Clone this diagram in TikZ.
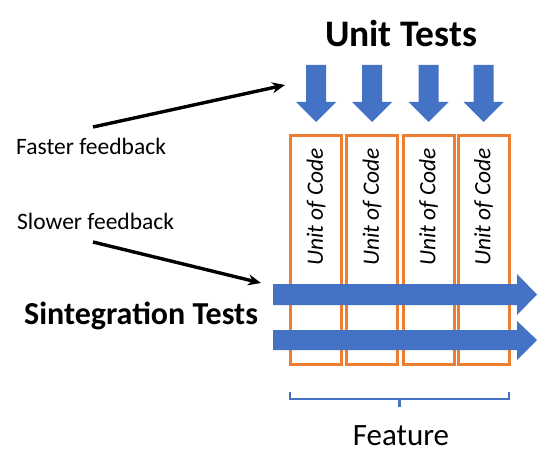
\documentclass[tikz,border=0pt]{standalone}
\usepackage{fontspec}
\setmainfont{Carlito}
\usetikzlibrary{arrows.meta}
\definecolor{ublue}{HTML}{4472C4}
\definecolor{uorange}{HTML}{ED7D31}
\tikzset{
  unitbox/.style={draw=uorange, line width=3pt, fill=white, minimum width=51pt, minimum height=228pt, inner sep=0pt},
  blockarrow/.style={fill=ublue, draw=none},
  fbarrow/.style={line width=3.4pt, -{Stealth[length=13pt,width=11pt]}},
  unittext/.style={rotate=90, font=\fontsize{23.4}{25}\selectfont\itshape},
  lbl/.style={font=\fontsize{23.5}{25}\selectfont, inner sep=0pt, anchor=west},
}
\begin{document}
\begin{tikzpicture}[x=1pt,y=-1pt]
\useasboundingbox (0,0) rectangle (545,457);
% title
\node[font=\fontsize{37.5}{40}\selectfont\bfseries] (ut) at (401,33) {Unit Tests};
% down arrows
\foreach \c in {316,372,428.5,483.5}{
  \fill[blockarrow] (\c-10,65) -- (\c+10,65) -- (\c+10,102) -- (\c+20,102) -- (\c,122) -- (\c-20,102) -- (\c-10,102) -- cycle;
}
% boxes
\foreach \c/\n in {316/b1,372/b2,428.5/b3,483.5/b4}{
  \node[unitbox] (\n) at (\c,250) {};
  \node[unittext] (\n t) at (\c,207) {Unit of Code};
}
% horizontal arrows
\fill[blockarrow] (273,284) -- (517,284) -- (517,274) -- (537,294.5) -- (517,315) -- (517,305) -- (273,305) -- cycle;
\fill[blockarrow] (273,330) -- (517,330) -- (517,321) -- (537,340) -- (517,360) -- (517,350) -- (273,350) -- cycle;
% labels
\node[lbl] (fast) at (16,146) {Faster feedback};
\node[lbl] (slow) at (17,221) {Slower feedback};
\node[font=\fontsize{32}{34}\selectfont\bfseries, inner sep=0pt, anchor=west] (sint) at (24,316) {Sintegration Tests};
% feedback arrows
\coordinate (fs) at (93,127);
\coordinate (fe) at (285,85);
\coordinate (ss) at (93,242);
\coordinate (se) at (261,283);
\draw[fbarrow] (fs) -- (fe);
\draw[fbarrow] (ss) -- (se);
% brace
\coordinate (bl) at (290,392);
\coordinate (br) at (509,392);
\coordinate (bm) at (399.5,399);
\draw[ublue, line width=2.5pt] (bl) -- (290,399) -- (509,399) -- (br);
\draw[ublue, line width=2.5pt] (bm) -- (399.5,407);
\node[font=\fontsize{31}{33}\selectfont] (feat) at (401,436) {Feature};
\end{tikzpicture}
\end{document}
